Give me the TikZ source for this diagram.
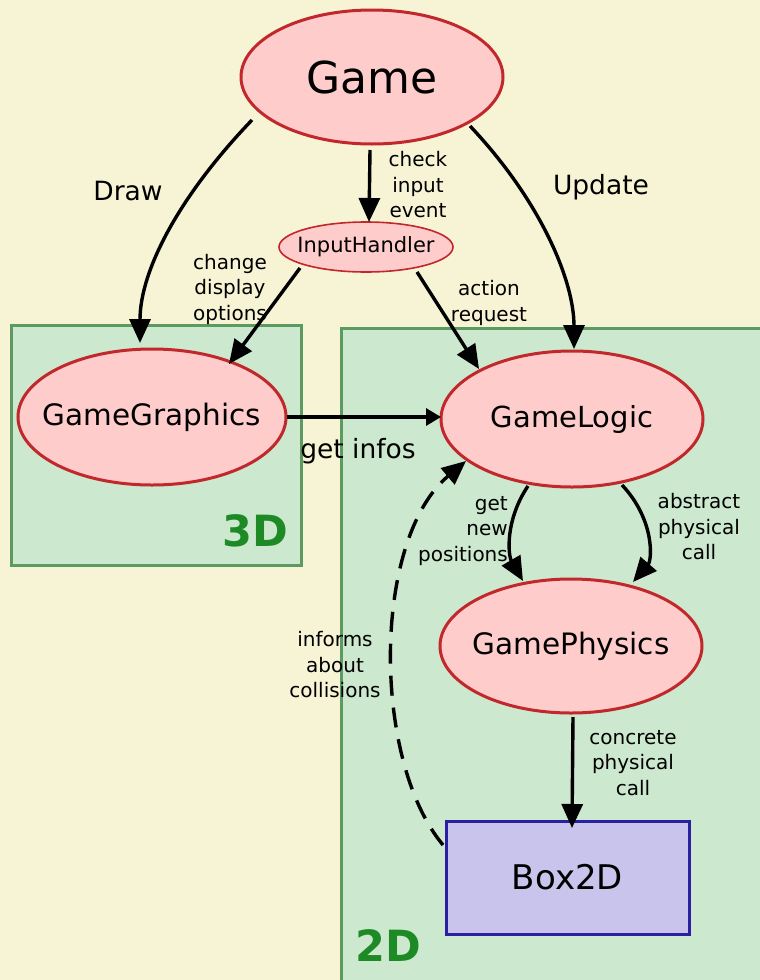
\documentclass[tikz,border=0pt]{standalone}
\usepackage{fontspec}
\setmainfont{DejaVu Sans}
\usetikzlibrary{shapes.geometric,arrows.meta}
\definecolor{bgcream}{HTML}{F7F4D6}
\definecolor{zonefill}{HTML}{CCE8CE}
\definecolor{zoneline}{HTML}{5C9A62}
\definecolor{ellfill}{HTML}{FFCCCC}
\definecolor{ellline}{HTML}{C0282C}
\definecolor{boxfill}{HTML}{C8C4EC}
\definecolor{boxline}{HTML}{2A1FA0}
\definecolor{zonetext}{HTML}{1E8A26}
\newcommand{\zw}[1]{\makebox[0pt]{#1}}
\tikzset{
  zone/.style={fill=zonefill,draw=zoneline,line width=3pt},
  comp/.style={ellipse,fill=ellfill,draw=ellline,line width=3pt,inner sep=0pt},
  flow/.style={line width=3.4pt,-{Triangle[length=24pt,width=21pt]}},
  smallflow/.style={line width=3.2pt,-{Triangle[length=15pt,width=17pt]}},
  lbl/.style={align=center,font=\fontsize{20}{25.5}\selectfont,inner sep=0pt},
  biglbl/.style={font=\fontsize{26.5}{30}\selectfont,inner sep=0pt},
  zonelbl/.style={font=\fontsize{43}{46}\selectfont\bfseries,text=zonetext,inner sep=0pt}
}
\begin{document}
\begin{tikzpicture}[x=1pt,y=-1pt]
\useasboundingbox (0,0) rectangle (760,980);
\clip (0,0) rectangle (760,980);
\fill[bgcream] (0,0) rectangle (760,980);
% zones
\draw[zone] (11,325) rectangle (301,565);
\draw[zone] (341,328) rectangle (775,995);
\node[zonelbl] (z3) at (255,531) {3D};
\node[zonelbl] (z2) at (388,946) {2D};
% components
\node[comp,minimum width=262pt,minimum height=134pt,font=\fontsize{44}{48}\selectfont] (game) at (372,77) {\zw{Game}};
\node[comp,line width=1.6pt,minimum width=174pt,minimum height=50pt,font=\fontsize{21}{24}\selectfont] (input) at (366,247) {\zw{InputHandler}};
\node[comp,minimum width=268pt,minimum height=136pt,font=\fontsize{29.5}{32}\selectfont] (gfx) at (152,417) {\zw{GameGraphics}};
\node[comp,minimum width=262pt,minimum height=136pt,font=\fontsize{29}{32}\selectfont] (logic) at (572,419) {\zw{GameLogic}};
\node[comp,minimum width=262pt,minimum height=134pt,font=\fontsize{29.5}{32}\selectfont] (phys) at (571,646) {\zw{GamePhysics}};
\node[rectangle,fill=boxfill,draw=boxline,line width=3pt,minimum width=243pt,minimum height=113pt,inner sep=0pt,font=\fontsize{34}{38}\selectfont] (box) at (567.5,877.5) {Box2D};
% connector end points
\coordinate (drawA) at (252,120);
\coordinate (drawB) at (140,343);
\coordinate (updA) at (470,126);
\coordinate (updB) at (574,349);
\coordinate (chkA) at (370,150);
\coordinate (chkB) at (369,222);
\coordinate (chgA) at (300,268);
\coordinate (chgB) at (229,364);
\coordinate (actA) at (417,272);
\coordinate (actB) at (479,369);
\coordinate (infA) at (287,417);
\coordinate (infB) at (441,417);
\coordinate (posA) at (528,486);
\coordinate (posB) at (523,581);
\coordinate (absA) at (622,485);
\coordinate (absB) at (633,582);
\coordinate (conA) at (573,717);
\coordinate (conB) at (572,828);
\coordinate (colA) at (443,845);
\coordinate (colB) at (466,461);
% connectors
\draw[flow] (drawA) .. controls (180,195) and (140,270) .. (drawB);
\draw[flow] (updA) .. controls (540,200) and (574,280) .. (updB);
\draw[flow] (chkA) -- (chkB);
\draw[flow] (chgA) -- (chgB);
\draw[flow] (actA) -- (actB);
\draw[smallflow] (infA) -- (infB);
\draw[flow] (posA) .. controls (505,520) and (508,555) .. (posB);
\draw[flow] (absA) .. controls (655,520) and (652,560) .. (absB);
\draw[flow] (conA) -- (conB);
\draw[flow,dash pattern=on 20pt off 12pt] (colA) .. controls (372,760) and (372,540) .. (colB);
% labels
\node[biglbl] (ldraw) at (128,191) {Draw};
\node[biglbl] (lupd) at (601,187) {Update};
\node[biglbl] (linf) at (358,451) {get infos};
\node[lbl] (lchk) at (418,185) {check\\input\\event};
\node[lbl] (lchg) at (230,289) {change\\display\\options};
\node[lbl] (lact) at (489,303) {action\\request};
\node[lbl,align=right] (lpos) at (463,531) {get\\new\\positions};
\node[lbl] (labs) at (699,527) {abstract\\physical\\call};
\node[lbl] (lcol) at (335,665) {informs\\about\\collisions};
\node[lbl] (lcon) at (633,763) {concrete\\physical\\call};
\end{tikzpicture}
\end{document}
